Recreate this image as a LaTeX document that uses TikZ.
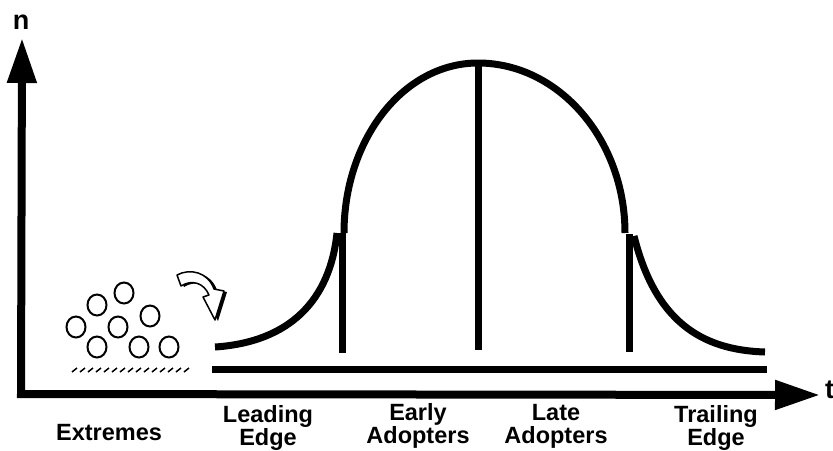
\documentclass[tikz,border=0pt]{standalone}
\usepackage{fontspec}
\setmainfont{Liberation Sans}
\usetikzlibrary{arrows.meta,shapes.geometric}

\begin{document}
\begin{tikzpicture}[
  x=1pt, y=-1pt,
  axis/.style={line width=8pt, line join=miter,
    {Triangle[length=45pt,width=28pt]}-{Triangle[length=45pt,width=28pt]}},
  curve/.style={line width=7pt},
  bar/.style={line width=7pt},
  dot/.style={ellipse, draw, line width=2pt, minimum width=19pt, minimum height=21pt, inner sep=0pt},
  label/.style={font=\fontsize{23.5}{23}\selectfont\bfseries, align=center, anchor=base, inner sep=0pt}
]
  \useasboundingbox (0,0) rectangle (833,450);

  % axes
  \coordinate (ytip) at (22,38);
  \coordinate (corner) at (21,394);
  \coordinate (xtip) at (820,395);
  \draw[axis] (ytip) -- (corner) -- (xtip);
  \node[label, font=\fontsize{27}{27}\selectfont\bfseries] (n) at (21,29) {n};
  \node[label, font=\fontsize{27}{27}\selectfont\bfseries, anchor=base west] (t) at (825,398) {t};

  % baseline bar
  \coordinate (b1) at (212,369);
  \coordinate (b2) at (767,369);
  \draw[bar] (b1) -- (b2);

  % bell curve pieces
  \coordinate (l0) at (215,347);
  \coordinate (l1) at (337,233);
  \coordinate (m0) at (344,233);
  \coordinate (top) at (478,63);
  \coordinate (m1) at (625,233);
  \coordinate (r0) at (634,236);
  \coordinate (r1) at (765,352);
  \draw[curve] (l0) .. controls (290,342) and (330,300) .. (l1);
  \draw[curve] (m0) .. controls (344,140) and (403,63) .. (top)
                    .. controls (559,63) and (625,140) .. (m1);
  \draw[curve] (r0) .. controls (655,320) and (700,350) .. (r1);

  % dividers
  \coordinate (d1a) at (342.5,233);
  \coordinate (d1b) at (342.5,353);
  \coordinate (d2a) at (478,63);
  \coordinate (d2b) at (478,350);
  \coordinate (d3a) at (629,234);
  \coordinate (d3b) at (629,352);
  \draw[bar] (d1a) -- (d1b);
  \draw[bar] (d2a) -- (d2b);
  \draw[bar] (d3a) -- (d3b);

  % extremes: scattered circles
  \node[dot] (c1) at (124,293) {};
  \node[dot] (c2) at (97,305) {};
  \node[dot] (c3) at (76,327) {};
  \node[dot] (c4) at (118,327) {};
  \node[dot] (c5) at (150,316) {};
  \node[dot] (c6) at (97,347) {};
  \node[dot] (c7) at (139,347) {};
  \node[dot] (c8) at (169,347) {};
  \foreach \x in {72,80,...,184}
    \draw[line width=1.5pt] (\x,372) -- ++(5,-4);

  % curved arrow
  \fill[black, shift={(3,1)}] (177,275) .. controls (190,268) and (208,272) .. (214,289)
    -- (224,291) -- (215,320) -- (203,297) -- (209,295)
    .. controls (204,283) and (192,279) .. (181,286) -- cycle;
  \filldraw[fill=white, draw=black, line width=1.5pt, line join=round]
    (177,275) .. controls (190,268) and (208,272) .. (214,289)
    -- (224,291) -- (215,320) -- (203,297) -- (209,295)
    .. controls (204,283) and (192,279) .. (181,286) -- cycle;

  % group labels (base = last line)
  \node[label] (extremes) at (109,440) {Extremes};
  \node[label] (leading) at (268,445) {Leading\\Edge};
  \node[label] (early) at (418,443) {Early\\Adopters};
  \node[label] (late) at (556,443) {Late\\Adopters};
  \node[label] (trailing) at (716,445) {Trailing\\Edge};
\end{tikzpicture}
\end{document}
